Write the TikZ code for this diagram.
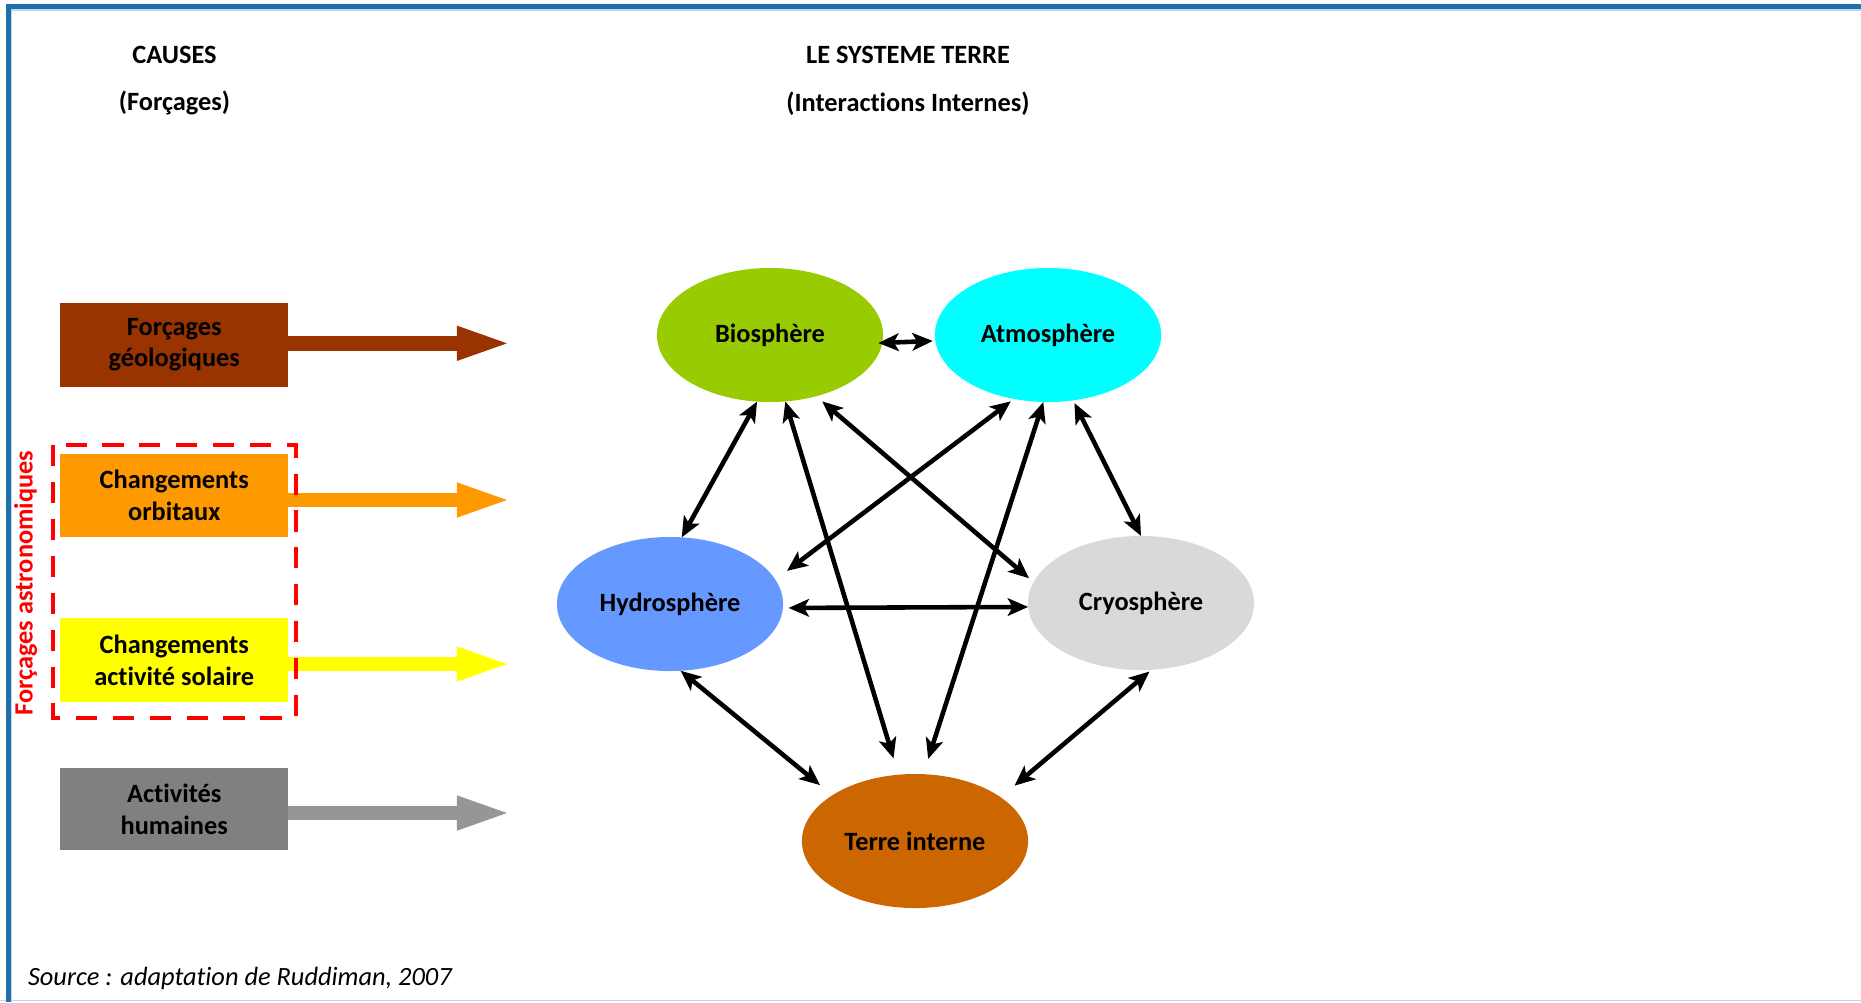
\documentclass[tikz,border=0pt]{standalone}
\usepackage{fontspec}
\setmainfont{Carlito}[Ligatures=NoCommon]
\usetikzlibrary{arrows.meta,shapes.geometric}
\definecolor{borderblue}{RGB}{30,112,168}
\definecolor{borderlight}{RGB}{189,215,238}
\definecolor{biogreen}{HTML}{99CC00}
\definecolor{atmocyan}{HTML}{00FFFF}
\definecolor{hydroblue}{HTML}{6699FF}
\definecolor{cryogray}{HTML}{D9D9D9}
\definecolor{terreorange}{HTML}{CC6600}
\definecolor{geobrown}{HTML}{993300}
\definecolor{orborange}{HTML}{FF9900}
\definecolor{solyellow}{HTML}{FFFF00}
\definecolor{humgray}{HTML}{808080}
\definecolor{humarrow}{HTML}{969696}
\definecolor{astrored}{HTML}{FF0000}
\newcommand{\diagfont}{\fontsize{7.5pt}{9pt}\selectfont}
\tikzset{
  causebox/.style={rectangle, draw=none, minimum width=2.275cm, inner sep=0pt, outer sep=0pt, align=center, font=\diagfont\bfseries},
  ell/.style={ellipse, draw=none, minimum width=2.26cm, minimum height=1.34cm, inner sep=0pt, outer sep=0pt, font=\diagfont\bfseries},
  fatarrow/.style={line width=0.147cm, -{Triangle[length=0.56cm, width=0.30cm]}},
  biarrow/.style={line width=1.3pt, {Stealth[length=5.8pt, width=5pt, inset=1.4pt]}-{Stealth[length=5.8pt, width=5pt, inset=1.4pt]}},
  header/.style={font=\diagfont\bfseries, inner sep=0pt}
}
\begin{document}
\begin{tikzpicture}[x=0.01cm, y=-0.01cm]
\useasboundingbox (0,0) rectangle (1861,1002);
% frame
\draw[borderlight, line width=0.4pt] (0,1000.5) -- (1861,1000.5);
\draw[borderlight, line width=0.5pt] (11.3,1002) -- (11.3,10.3) -- (1861,10.3);
\draw[borderblue, line width=0.05cm, line join=miter] (8.3,1002) -- (8.3,6.3) -- (1861,6.3);

% headers
\node[header] (causes) at (174.5,54.6) {CAUSES};
\node[header] (forc) at (174.5,103.3) {(Forçages)};
\node[header] (systeme) at (908,54.6) {LE SYSTEME TERRE};
\node[header] (inter) at (908,103.3) {(Interactions Internes)};

% cause boxes
\node[causebox, fill=geobrown, minimum height=0.843cm] (geo) at (174.25,344.8) {Forçages\\géologiques};
\node[causebox, fill=orborange, minimum height=0.82cm] (orb) at (174.25,495.5) {Changements\\orbitaux};
\node[causebox, fill=solyellow, minimum height=0.83cm] (sol) at (174.25,660) {Changements\\activité solaire};
\node[causebox, fill=humgray, minimum height=0.82cm] (hum) at (174.25,809) {Activités\\humaines};

% forcing arrows
\coordinate (geotip) at (513,343.3);
\coordinate (orbtip) at (513,500);
\coordinate (soltip) at (513,664);
\coordinate (humtip) at (513,813);
\draw[fatarrow, geobrown] (geo.east |- geotip) -- (geotip);
\draw[fatarrow, orborange] (orb.east |- orbtip) -- (orbtip);
\draw[fatarrow, solyellow] (sol.east |- soltip) -- (soltip);
\draw[fatarrow, humarrow] (hum.east |- humtip) -- (humtip);

% astronomical forcing frame
\draw[astrored, line width=0.04cm, dash pattern=on 6pt off 4.5pt] (53.4,445) rectangle (295.5,718);
\node[rotate=90, text=astrored, font=\diagfont\bfseries, inner sep=0pt] (astro) at (25.5,583) {Forçages astronomiques};

% Earth system
\node[ell, fill=biogreen] (bio) at (770,335) {Biosphère};
\node[ell, fill=atmocyan] (atmo) at (1048,335) {Atmosphère};
\node[ell, fill=hydroblue] (hydro) at (670,604) {Hydrosphère};
\node[ell, fill=cryogray] (cryo) at (1141,603) {Cryosphère};
\node[ell, fill=terreorange] (terre) at (915,841) {Terre interne};

\draw[biarrow, shorten <=-0.04cm, shorten >=0.026cm] (bio.356.5) -- (atmo.183.4);
\draw[biarrow] (bio.259) -- (hydro.80.5);
\draw[biarrow, shorten >=0.17cm] (bio.283.6) -- (terre.104.9);
\draw[biarrow, shorten <=0.08cm, shorten >=0.06cm] (bio.307) -- (cryo.169.4);
\draw[biarrow, shorten <=0.04cm, shorten >=0.146cm] (atmo.242.7) -- (hydro.13.7);
\draw[biarrow, shorten >=0.16cm] (atmo.266.6) -- (terre.83.3);
\draw[biarrow, shorten <=0.03cm] (atmo.291.6) -- (cryo.90.8);
\draw[biarrow, shorten <=0.057cm] (hydro.358.5) -- (cryo.182);
\draw[biarrow, shorten >=0.16cm] (hydro.279.6) -- (terre.151.6);
\draw[biarrow, shorten <=0.027cm, shorten >=0.18cm] (cryo.279) -- (terre.27.6);

% source
\node[anchor=west, font=\diagfont\itshape, inner sep=0pt] (src) at (27.3,978) {Source : adaptation de Ruddiman, 2007};
\end{tikzpicture}
\end{document}
